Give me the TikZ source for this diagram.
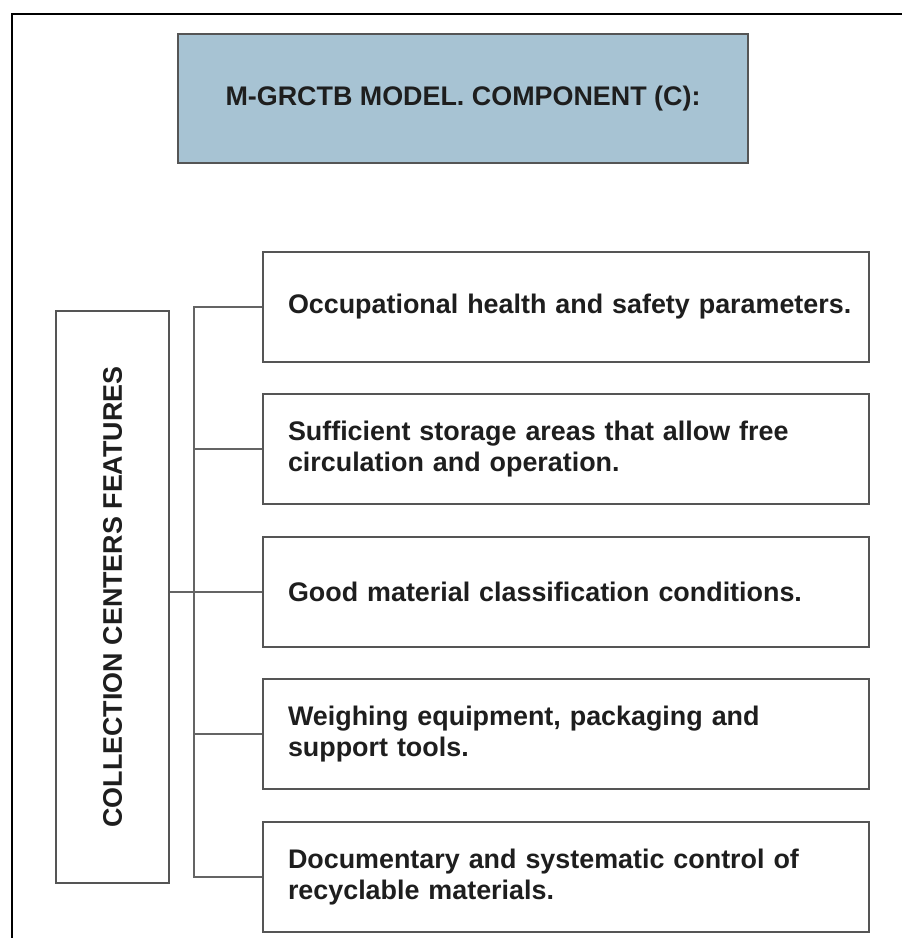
\documentclass[tikz,border=0pt]{standalone}
\usepackage{fontspec}
\setmainfont{Liberation Sans}
\definecolor{titulo}{RGB}{167,195,211}
\definecolor{borde}{RGB}{85,85,85}
\definecolor{linea}{RGB}{100,100,100}
\definecolor{texto}{RGB}{30,30,30}
\begin{document}
\begin{tikzpicture}[font=\fontsize{15.3}{17.6}\selectfont\bfseries, text=texto,
		caja/.style={draw=borde, line width=0.9pt, minimum height=2.2cm, minimum width=12.12cm, text width=11.12cm, align=left, inner sep=0pt},
		conector/.style={draw=linea, line width=0.7pt}]
	\useasboundingbox (0,0) rectangle (18.04,-18.76);
	\draw[line width=1.7pt] (0.24,-0.28) rectangle (18.5,-19.2);
	\node[draw=borde, line width=0.9pt, fill=titulo, minimum width=11.4cm, minimum height=2.58cm] (tit) at (9.26,-1.97) {M-GRCTB MODEL. COMPONENT (C):};
	\node[draw=borde, line width=0.9pt, rotate=90, minimum width=11.44cm, minimum height=2.26cm] (cc) at (2.25,-11.94) {COLLECTION CENTERS FEATURES};
	\node[caja] (b1) at (11.32,-6.14) {\mbox{Occupational health and safety parameters.}};
	\node[caja] (b2) at (11.32,-8.98) {Sufficient storage areas that allow free\\circulation and operation.};
	\node[caja] (b3) at (11.32,-11.84) {Good material classification conditions.};
	\node[caja] (b4) at (11.32,-14.68) {Weighing equipment, packaging and\\support tools.};
	\node[caja] (b5) at (11.32,-17.54) {Documentary and systematic control of\\recyclable materials.};

	\coordinate (bus) at (3.88,0);
	\draw[conector] (b1.west) -| (bus |- b5.west) -- (b5.west);
	\foreach \i in {2,3,4}
		\draw[conector] (bus |- b\i.west) -- (b\i.west);
	\draw[conector] (cc.south |- b3.west) -- (bus |- b3.west);
\end{tikzpicture}
\end{document}
